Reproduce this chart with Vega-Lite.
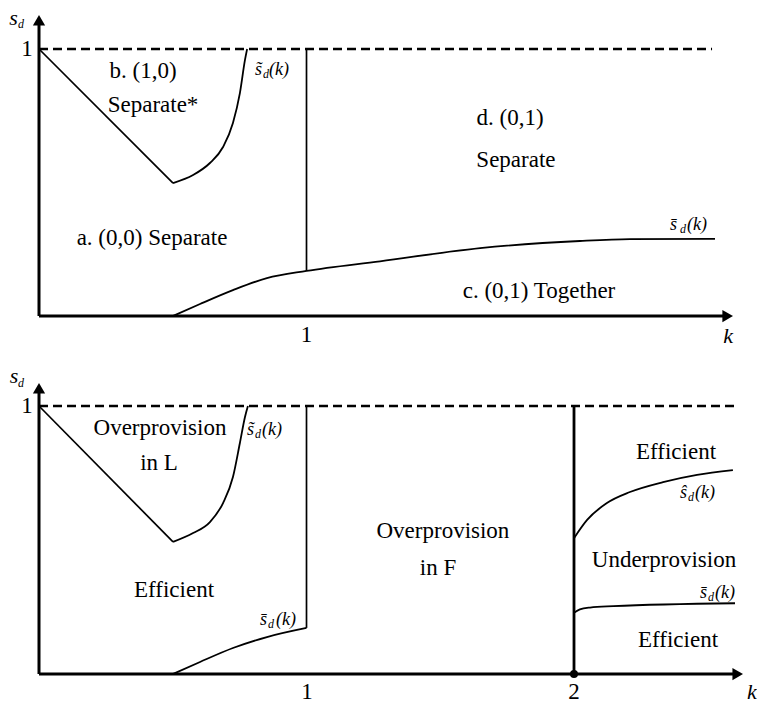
{
  "$schema": "https://vega.github.io/schema/vega-lite/v6.json",
  "padding": 0,
  "spacing": 0,
  "bounds": "flush",
  "background": "white",
  "config": {"view": {"stroke": null}, "text": {"font": "Liberation Serif, Times New Roman, DejaVu Serif, serif"}},
  "vconcat": [
    {
      "width": 757,
      "height": 352,
      "encoding": {
        "x": {"field": "k", "type": "quantitative", "scale": {"domain": [-0.1458, 2.6841], "nice": false, "zero": false}, "axis": null},
        "y": {"field": "s", "type": "quantitative", "scale": {"domain": [-0.1348, 1.1835], "nice": false, "zero": false}, "axis": null}
      },
      "layer": [
        {
          "data": {"values": [{"id": "top", "k": 0, "s": 1, "o": 0}, {"id": "top", "k": 2.516, "s": 1, "o": 1}]},
          "mark": {"type": "line", "color": "black", "strokeWidth": 2.6, "strokeDash": [9, 5]},
          "encoding": {"detail": {"field": "id", "type": "nominal"}, "order": {"field": "o", "type": "quantitative"}}
        },
        {
          "data": {"values": [
            {"id": "diag", "k": 0, "s": 1, "o": 0}, {"id": "diag", "k": 0.501, "s": 0.498, "o": 1},
            {"id": "vert", "k": 1, "s": 0.169, "o": 0}, {"id": "vert", "k": 1, "s": 1, "o": 1}
          ]},
          "mark": {"type": "line", "color": "black", "strokeWidth": 1.7},
          "encoding": {"detail": {"field": "id", "type": "nominal"}, "order": {"field": "o", "type": "quantitative"}}
        },
        {
          "data": {"values": [
            {"id": "tilde", "k": 0.501, "s": 0.498, "o": 0},
            {"id": "tilde", "k": 0.576, "s": 0.528, "o": 1},
            {"id": "tilde", "k": 0.639, "s": 0.573, "o": 2},
            {"id": "tilde", "k": 0.688, "s": 0.633, "o": 3},
            {"id": "tilde", "k": 0.725, "s": 0.723, "o": 4},
            {"id": "tilde", "k": 0.751, "s": 0.835, "o": 5},
            {"id": "tilde", "k": 0.770, "s": 0.959, "o": 6},
            {"id": "tilde", "k": 0.778, "s": 1.0, "o": 7},
            {"id": "bar", "k": 0.501, "s": 0.0, "o": 0},
            {"id": "bar", "k": 0.602, "s": 0.045, "o": 1},
            {"id": "bar", "k": 0.725, "s": 0.097, "o": 2},
            {"id": "bar", "k": 0.852, "s": 0.142, "o": 3},
            {"id": "bar", "k": 1.0, "s": 0.169, "o": 4},
            {"id": "bar", "k": 1.275, "s": 0.205, "o": 5},
            {"id": "bar", "k": 1.649, "s": 0.254, "o": 6},
            {"id": "bar", "k": 2.022, "s": 0.281, "o": 7},
            {"id": "bar", "k": 2.209, "s": 0.288, "o": 8},
            {"id": "bar", "k": 2.527, "s": 0.289, "o": 9}
          ]},
          "mark": {"type": "line", "color": "black", "strokeWidth": 1.8, "interpolate": "monotone"},
          "encoding": {"detail": {"field": "id", "type": "nominal"}, "order": {"field": "o", "type": "quantitative"}}
        },
        {
          "data": {"values": [
            {"id": "yaxis", "k": 0, "s": 0, "o": 0}, {"id": "yaxis", "k": 0, "s": 1.09, "o": 1},
            {"id": "xaxis", "k": 0, "s": 0, "o": 0}, {"id": "xaxis", "k": 2.56, "s": 0, "o": 1}
          ]},
          "mark": {"type": "line", "color": "black", "strokeWidth": 3},
          "encoding": {"detail": {"field": "id", "type": "nominal"}, "order": {"field": "o", "type": "quantitative"}}
        },
        {
          "data": {"values": [{"k": 0, "s": 1.1075}]},
          "mark": {"type": "point", "shape": "triangle-up", "filled": true, "color": "black", "opacity": 1, "size": 150}
        },
        {
          "data": {"values": [{"k": 2.5745, "s": 0}]},
          "mark": {"type": "point", "shape": "triangle-right", "filled": true, "color": "black", "opacity": 1, "size": 150}
        },
        {
          "data": {"values": [
            {"label": "b. (1,0)", "k": 0.3888, "s": 0.8914},
            {"label": "Separate*", "k": 0.4262, "s": 0.764},
            {"label": "a. (0,0) Separate", "k": 0.4224, "s": 0.2659},
            {"label": "d. (0,1)", "k": 1.761, "s": 0.7154},
            {"label": "Separate", "k": 1.783, "s": 0.5581},
            {"label": "c. (0,1) Together", "k": 1.8692, "s": 0.0674},
            {"label": "1", "k": 1.0, "s": -0.0974},
            {"label": "1", "k": -0.0449, "s": 0.9738}
          ]},
          "mark": {"type": "text", "fontSize": 23, "align": "center", "baseline": "alphabetic", "color": "black"},
          "encoding": {"text": {"field": "label"}}
        },
        {
          "data": {"values": [
            {"label": "s̃", "k": 0.8075, "s": 0.9026},
            {"label": "(k)", "k": 0.8598, "s": 0.9026},
            {"label": "s̄", "k": 2.3589, "s": 0.3221},
            {"label": "(k)", "k": 2.4224, "s": 0.3221}
          ]},
          "mark": {"type": "text", "fontStyle": "italic", "fontSize": 18, "align": "left", "baseline": "alphabetic", "color": "black"},
          "encoding": {"text": {"field": "label"}}
        },
        {
          "data": {"values": [
            {"label": "d", "k": 0.8374, "s": 0.8914},
            {"label": "d", "k": 2.3963, "s": 0.3109},
            {"label": "d", "k": -0.0785, "s": 1.0787}
          ]},
          "mark": {"type": "text", "fontStyle": "italic", "fontSize": 12, "align": "left", "baseline": "alphabetic", "color": "black"},
          "encoding": {"text": {"field": "label"}}
        },
        {
          "data": {"values": [
            {"label": "s", "k": -0.0953, "s": 1.0899},
            {"label": "k", "k": 2.5757, "s": -0.1011}
          ]},
          "mark": {"type": "text", "fontStyle": "italic", "fontSize": 22, "align": "center", "baseline": "alphabetic", "color": "black"},
          "encoding": {"text": {"field": "label"}}
        }
      ]
    },
    {
      "width": 757,
      "height": 352,
      "encoding": {
        "x": {"field": "k", "type": "quantitative", "scale": {"domain": [-0.1458, 2.6841], "nice": false, "zero": false}, "axis": null},
        "y": {"field": "s", "type": "quantitative", "scale": {"domain": [-0.1119, 1.2015], "nice": false, "zero": false}, "axis": null}
      },
      "layer": [
        {
          "data": {"values": [{"id": "top", "k": 0, "s": 1, "o": 0}, {"id": "top", "k": 2.609, "s": 1, "o": 1}]},
          "mark": {"type": "line", "color": "black", "strokeWidth": 2.6, "strokeDash": [9, 5]},
          "encoding": {"detail": {"field": "id", "type": "nominal"}, "order": {"field": "o", "type": "quantitative"}}
        },
        {
          "data": {"values": [
            {"id": "diag", "k": 0, "s": 1, "o": 0}, {"id": "diag", "k": 0.501, "s": 0.493, "o": 1},
            {"id": "vert", "k": 1, "s": 0.172, "o": 0}, {"id": "vert", "k": 1, "s": 1, "o": 1}
          ]},
          "mark": {"type": "line", "color": "black", "strokeWidth": 1.7},
          "encoding": {"detail": {"field": "id", "type": "nominal"}, "order": {"field": "o", "type": "quantitative"}}
        },
        {
          "data": {"values": [
            {"id": "v2", "k": 2, "s": 0, "o": 0}, {"id": "v2", "k": 2, "s": 1, "o": 1}
          ]},
          "mark": {"type": "line", "color": "black", "strokeWidth": 2.8},
          "encoding": {"detail": {"field": "id", "type": "nominal"}, "order": {"field": "o", "type": "quantitative"}}
        },
        {
          "data": {"values": [
            {"id": "tilde", "k": 0.501, "s": 0.493, "o": 0},
            {"id": "tilde", "k": 0.576, "s": 0.526, "o": 1},
            {"id": "tilde", "k": 0.639, "s": 0.567, "o": 2},
            {"id": "tilde", "k": 0.688, "s": 0.638, "o": 3},
            {"id": "tilde", "k": 0.725, "s": 0.735, "o": 4},
            {"id": "tilde", "k": 0.751, "s": 0.862, "o": 5},
            {"id": "tilde", "k": 0.770, "s": 0.959, "o": 6},
            {"id": "tilde", "k": 0.781, "s": 1.0, "o": 7},
            {"id": "barl", "k": 0.501, "s": 0.0, "o": 0},
            {"id": "barl", "k": 0.602, "s": 0.045, "o": 1},
            {"id": "barl", "k": 0.725, "s": 0.097, "o": 2},
            {"id": "barl", "k": 0.852, "s": 0.138, "o": 3},
            {"id": "barl", "k": 1.0, "s": 0.172, "o": 4},
            {"id": "hat", "k": 2.0, "s": 0.507, "o": 0},
            {"id": "hat", "k": 2.049, "s": 0.575, "o": 1},
            {"id": "hat", "k": 2.123, "s": 0.638, "o": 2},
            {"id": "hat", "k": 2.209, "s": 0.679, "o": 3},
            {"id": "hat", "k": 2.333, "s": 0.716, "o": 4},
            {"id": "hat", "k": 2.46, "s": 0.743, "o": 5},
            {"id": "hat", "k": 2.594, "s": 0.761, "o": 6},
            {"id": "barr", "k": 2.0, "s": 0.229, "o": 0},
            {"id": "barr", "k": 2.022, "s": 0.241, "o": 1},
            {"id": "barr", "k": 2.06, "s": 0.248, "o": 2},
            {"id": "barr", "k": 2.147, "s": 0.253, "o": 3},
            {"id": "barr", "k": 2.602, "s": 0.264, "o": 4}
          ]},
          "mark": {"type": "line", "color": "black", "strokeWidth": 1.8, "interpolate": "monotone"},
          "encoding": {"detail": {"field": "id", "type": "nominal"}, "order": {"field": "o", "type": "quantitative"}}
        },
        {
          "data": {"values": [
            {"id": "yaxis", "k": 0, "s": 0, "o": 0}, {"id": "yaxis", "k": 0, "s": 1.05, "o": 1},
            {"id": "xaxis", "k": 0, "s": 0, "o": 0}, {"id": "xaxis", "k": 2.6, "s": 0, "o": 1}
          ]},
          "mark": {"type": "line", "color": "black", "strokeWidth": 3},
          "encoding": {"detail": {"field": "id", "type": "nominal"}, "order": {"field": "o", "type": "quantitative"}}
        },
        {
          "data": {"values": [{"k": 0, "s": 1.066}]},
          "mark": {"type": "point", "shape": "triangle-up", "filled": true, "color": "black", "opacity": 1, "size": 150}
        },
        {
          "data": {"values": [{"k": 2.612, "s": 0}]},
          "mark": {"type": "point", "shape": "triangle-right", "filled": true, "color": "black", "opacity": 1, "size": 150}
        },
        {
          "data": {"values": [{"k": 2, "s": 0}]},
          "mark": {"type": "point", "shape": "circle", "filled": true, "color": "black", "opacity": 1, "size": 64}
        },
        {
          "data": {"values": [
            {"label": "Overprovision", "k": 0.4523, "s": 0.8918},
            {"label": "in L", "k": 0.4486, "s": 0.7612},
            {"label": "Efficient", "k": 0.5047, "s": 0.2873},
            {"label": "Overprovision", "k": 1.51, "s": 0.5075},
            {"label": "in F", "k": 1.4916, "s": 0.3694},
            {"label": "Efficient", "k": 2.3813, "s": 0.8022},
            {"label": "Underprovision", "k": 2.3364, "s": 0.3993},
            {"label": "Efficient", "k": 2.3888, "s": 0.1007},
            {"label": "1", "k": 1.002, "s": -0.092},
            {"label": "2", "k": 2.0, "s": -0.092},
            {"label": "1", "k": -0.0449, "s": 0.9739}
          ]},
          "mark": {"type": "text", "fontSize": 23, "align": "center", "baseline": "alphabetic", "color": "black"},
          "encoding": {"text": {"field": "label"}}
        },
        {
          "data": {"values": [
            {"label": "s̃", "k": 0.7776, "s": 0.8918},
            {"label": "(k)", "k": 0.8336, "s": 0.8918},
            {"label": "s̄", "k": 0.8262, "s": 0.1828},
            {"label": "(k)", "k": 0.886, "s": 0.1828},
            {"label": "ŝ", "k": 2.3963, "s": 0.6567},
            {"label": "(k)", "k": 2.4523, "s": 0.6567},
            {"label": "s̄", "k": 2.471, "s": 0.2836},
            {"label": "(k)", "k": 2.5271, "s": 0.2836}
          ]},
          "mark": {"type": "text", "fontStyle": "italic", "fontSize": 18, "align": "left", "baseline": "alphabetic", "color": "black"},
          "encoding": {"text": {"field": "label"}}
        },
        {
          "data": {"values": [
            {"label": "d", "k": 0.8075, "s": 0.8806},
            {"label": "d", "k": 0.8561, "s": 0.1716},
            {"label": "d", "k": 2.4262, "s": 0.6455},
            {"label": "d", "k": 2.5009, "s": 0.2724},
            {"label": "d", "k": -0.0785, "s": 1.0709}
          ]},
          "mark": {"type": "text", "fontStyle": "italic", "fontSize": 12, "align": "left", "baseline": "alphabetic", "color": "black"},
          "encoding": {"text": {"field": "label"}}
        },
        {
          "data": {"values": [
            {"label": "s", "k": -0.0935, "s": 1.0858},
            {"label": "k", "k": 2.6654, "s": -0.092}
          ]},
          "mark": {"type": "text", "fontStyle": "italic", "fontSize": 22, "align": "center", "baseline": "alphabetic", "color": "black"},
          "encoding": {"text": {"field": "label"}}
        }
      ]
    }
  ]
}
